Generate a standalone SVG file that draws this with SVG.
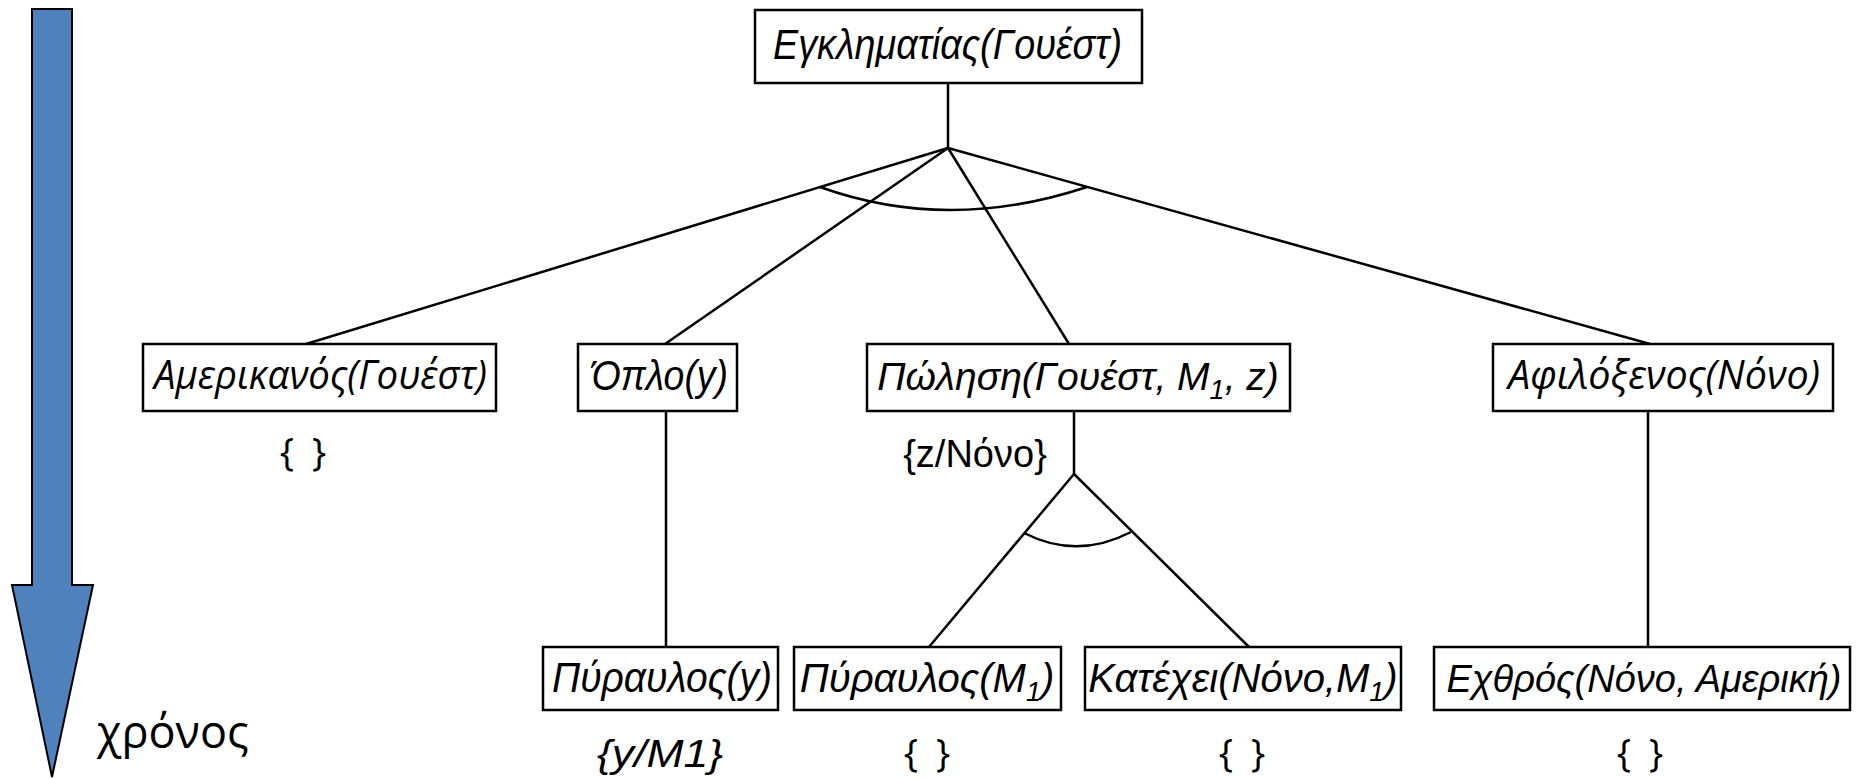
<svg xmlns="http://www.w3.org/2000/svg" width="1864" height="779" viewBox="0 0 1864 779">
<style>
.box{fill:#fff;stroke:#000;stroke-width:2.5}
.ln{fill:none;stroke:#000;stroke-width:2.5}
.ar{font-family:"Liberation Sans",Arial,sans-serif;font-style:italic;font-size:42px;fill:#000}
.arc{font-family:"Liberation Sans",Arial,sans-serif;font-style:italic;font-size:40px;fill:#000;text-anchor:middle}
.os{font-family:"Open Sans",sans-serif;font-style:italic;font-size:40px;fill:#000}
.lbl{font-family:"Liberation Sans",Arial,sans-serif;font-size:38px;fill:#000;text-anchor:middle}
.br{font-family:"Open Sans",sans-serif;font-size:38px;fill:#000;text-anchor:middle;word-spacing:8px}
.sub{font-size:27px}
</style>
<rect width="1864" height="779" fill="#fff"/>
<g id="time-arrow">
<polygon points="32,9 72,9 72,585 93,585 52,777 12,585 32,585" fill="#4F81BD" stroke="#000" stroke-width="2"/>
<text x="97" y="748" font-family="'Open Sans',sans-serif" font-size="45" fill="#000">χρόνος</text>
</g>
<g id="connectors">
<line class="ln" x1="948" y1="83" x2="948" y2="148"/>
<line class="ln" x1="948" y1="148" x2="306" y2="344"/>
<line class="ln" x1="948" y1="148" x2="665" y2="344"/>
<line class="ln" x1="948" y1="148" x2="1069" y2="344"/>
<line class="ln" x1="948" y1="148" x2="1650" y2="344"/>
<path class="ln" d="M820,187 Q948,233 1087,187"/>
<line class="ln" x1="666" y1="411" x2="666" y2="647"/>
<line class="ln" x1="1074" y1="411" x2="1074" y2="474"/>
<line class="ln" x1="1074" y1="474" x2="929" y2="647"/>
<line class="ln" x1="1074" y1="474" x2="1249" y2="647"/>
<path class="ln" d="M1024,533 Q1077,560 1131,532"/>
<line class="ln" x1="1648" y1="411" x2="1648" y2="647"/>
</g>
<g id="n-egklimatias">
<rect class="box" x="755" y="10" width="387" height="73"/>
<text class="ar" x="773" y="59" textLength="349" lengthAdjust="spacingAndGlyphs">Εγκληματίας(Γουέστ)</text>
</g>
<g id="n-amerikanos">
<rect class="box" x="143" y="344" width="353" height="67"/>
<text class="os" x="154" y="389" textLength="333" lengthAdjust="spacingAndGlyphs">Αμερικανός(Γουέστ)</text>
<text class="br" x="303" y="466">{ }</text>
</g>
<g id="n-oplo">
<rect class="box" x="578" y="344" width="159" height="67"/>
<text class="ar" x="591" y="390" textLength="137" lengthAdjust="spacingAndGlyphs">Όπλο(y)</text>
</g>
<g id="n-polisi">
<rect class="box" x="867" y="344" width="423" height="67"/>
<text class="arc" x="1078" y="390" style="font-size:39px">Πώληση(Γουέστ, M<tspan class="sub" dy="9">1</tspan><tspan dy="-9">, z)</tspan></text>
<text class="lbl" x="975" y="467">{z/Nόνο}</text>
</g>
<g id="n-afiloxenos">
<rect class="box" x="1493" y="344" width="340" height="67"/>
<text class="os" x="1508" y="389" textLength="312" lengthAdjust="spacingAndGlyphs">Αφιλόξενος(Νόνο)</text>
</g>
<g id="n-pyraulos-y">
<rect class="box" x="543" y="647" width="235" height="63"/>
<text class="ar" x="552" y="692" textLength="220" lengthAdjust="spacingAndGlyphs">Πύραυλος(y)</text>
<text class="ar" x="597" y="767" style="font-size:38px" textLength="126" lengthAdjust="spacingAndGlyphs">{y/M1}</text>
</g>
<g id="n-pyraulos-m1">
<rect class="box" x="794" y="647" width="267" height="63"/>
<text class="arc" x="927" y="692">Πύραυλος(M<tspan class="sub" dy="9">1</tspan><tspan dy="-9">)</tspan></text>
<text class="br" x="927" y="767">{ }</text>
</g>
<g id="n-katexei">
<rect class="box" x="1085" y="647" width="316" height="63"/>
<text class="arc" x="1243" y="692">Κατέχει(Νόνο,M<tspan class="sub" dy="9">1</tspan><tspan dy="-9">)</tspan></text>
<text class="br" x="1242" y="767">{ }</text>
</g>
<g id="n-exthros">
<rect class="box" x="1434" y="647" width="416" height="63"/>
<text class="arc" x="1644" y="692" style="font-size:38px">Εχθρός(Νόνο, Αμερική)</text>
<text class="br" x="1640" y="767">{ }</text>
</g>
</svg>
